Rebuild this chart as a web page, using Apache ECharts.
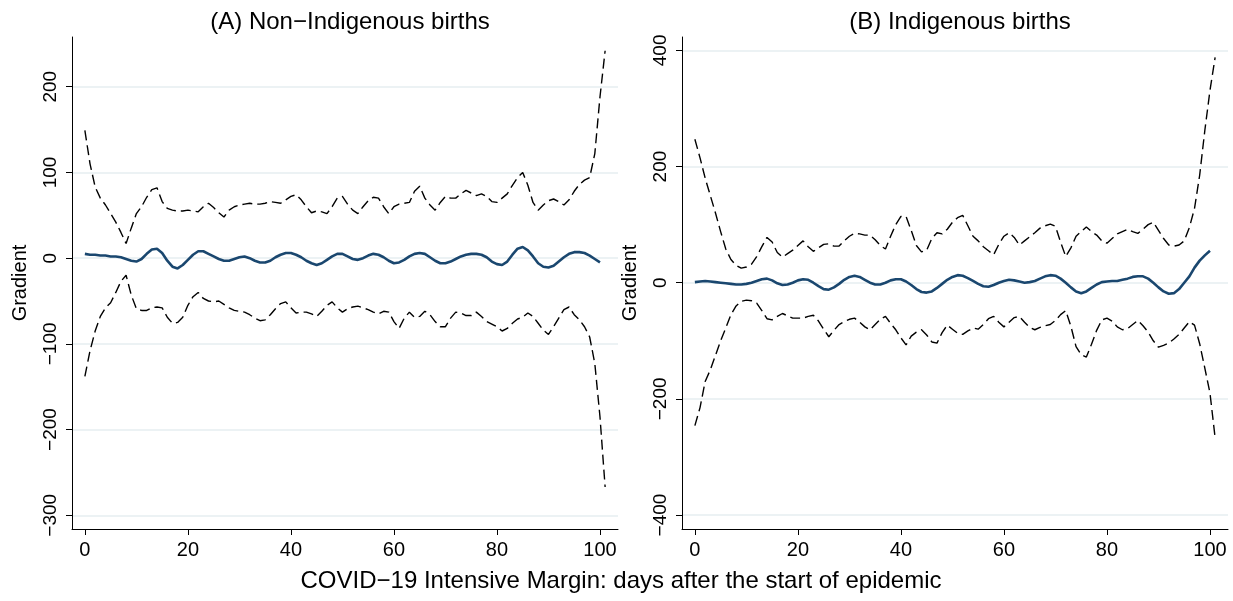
<!DOCTYPE html>
<html>
<head>
<meta charset="utf-8">
<script src="https://cdn.jsdelivr.net/npm/echarts@6/dist/echarts.min.js"></script>
<style>
html,body{margin:0;padding:0;background:#fff;}
#chart{width:1233px;height:601px;}
</style>
</head>
<body>
<div id="chart"></div>
<script>
// ---- Data ----
const panelTitles = ['(A) Non\u2212Indigenous births', '(B) Indigenous births'];
const xTitle = 'COVID\u221219 Intensive Margin: days after the start of epidemic';
const yTitle = 'Gradient';
const xTicks = [0, 20, 40, 60, 80, 100];
const yTicksA = [-300, -200, -100, 0, 100, 200];
const yTicksB = [-400, -200, 0, 200, 400];

// Panel A: Non-Indigenous births (days 0..101 for bands, 0..100 for estimate)
const upperA = [149,110,83,70,62,52,42,30,17,35,52,60,71,80,82,66,58,56,55,55,
  56,55,54,60,64,59,53,48,56,60,62,63,64,63,63,64,66,65,64,68,
  72,74,68,60,53,55,54,52,60,70,72,63,56,52,60,67,71,70,60,52,
  60,63,64,65,78,84,70,62,56,65,72,70,70,75,79,76,73,75,72,66,
  65,70,75,85,94,100,85,65,56,62,67,69,66,62,68,78,86,91,94,122,
  188,242];
const lowerA = [-138,-108,-85,-68,-58,-52,-40,-27,-20,-43,-59,-61,-61,-58,-57,-58,-69,-76,-75,-69,
  -55,-45,-40,-47,-50,-51,-50,-54,-58,-61,-62,-63,-66,-70,-73,-72,-66,-59,-53,-51,
  -58,-64,-63,-63,-65,-68,-62,-55,-51,-58,-63,-59,-57,-56,-58,-60,-63,-65,-62,-63,
  -74,-82,-70,-63,-69,-68,-62,-66,-74,-80,-80,-70,-63,-64,-67,-67,-63,-68,-74,-77,
  -80,-85,-82,-76,-71,-69,-64,-68,-76,-84,-89,-80,-70,-60,-57,-66,-72,-80,-92,-123,
  -185,-267];
const estA = [5,4,4,3,3,2,2,1,-1,-3,-4,-1,5,10,11,6,-3,-10,-12,-8,
  -2,4,8,8,5,2,-1,-3,-3,-1,1,2,0,-3,-5,-5,-3,1,4,6,
  6,4,1,-3,-6,-8,-6,-2,2,5,5,2,-1,-2,0,3,5,4,1,-3,
  -6,-5,-2,2,5,6,5,1,-3,-6,-6,-4,-1,2,4,5,5,4,1,-4,
  -7,-8,-4,4,11,13,9,2,-6,-10,-11,-9,-4,1,5,7,7,6,3,-1,
  -5];

// Panel B: Indigenous births
const upperB = [247,215,180,150,120,88,58,40,30,25,27,32,45,62,78,70,52,44,50,56,
  64,72,62,54,60,66,67,63,63,72,80,85,84,82,82,74,64,58,80,100,
  114,114,90,64,53,56,76,86,84,92,104,112,116,98,80,72,62,55,48,66,
  80,86,78,65,72,79,86,94,98,101,97,70,45,60,80,88,96,88,82,72,
  68,76,84,88,92,88,85,92,100,104,90,76,65,63,65,72,95,128,185,262,
  331,388];
const lowerB = [-246,-215,-170,-150,-125,-100,-78,-55,-40,-32,-30,-31,-35,-48,-62,-64,-58,-53,-57,-61,
  -61,-61,-58,-56,-66,-80,-93,-82,-72,-67,-63,-61,-68,-76,-81,-72,-63,-58,-70,-81,
  -95,-107,-92,-85,-81,-90,-102,-104,-86,-73,-80,-87,-89,-83,-78,-80,-72,-62,-58,-68,
  -76,-68,-60,-58,-68,-77,-81,-77,-74,-72,-65,-55,-48,-75,-110,-124,-128,-106,-82,-64,
  -61,-66,-76,-81,-79,-72,-65,-74,-85,-100,-111,-108,-104,-97,-89,-78,-67,-73,-105,-147,
  -190,-267];
const estB = [1,2,3,2,1,0,-1,-2,-3,-3,-2,0,3,6,7,4,-1,-4,-3,0,
  4,6,5,0,-6,-11,-12,-8,-2,5,10,12,10,5,0,-3,-3,0,4,6,
  6,2,-4,-11,-16,-17,-15,-9,-2,5,10,13,12,8,3,-2,-6,-7,-4,0,
  3,5,4,2,0,1,3,7,11,13,12,7,0,-8,-15,-18,-15,-9,-3,1,
  2,3,3,5,7,10,11,11,7,0,-8,-15,-19,-18,-11,0,11,26,38,47,
  55];

// ---- Build chart ----
const pairs = arr => arr.map((v, i) => [i, v]);
const minus = v => String(v).replace('-', '\u2212');
const FONT = 'Liberation Sans, Arial, Helvetica, sans-serif';
const GRID_COLOR = '#e6eef1';
const NAVY = '#1a476f';

function xAxisFor(idx) {
  return {
    gridIndex: idx, type: 'value', min: -2.5, max: 103.5,
    axisLine: { show: true, onZero: false, lineStyle: { color: '#000', width: 1 } },
    axisTick: { show: true, customValues: xTicks, length: 6, lineStyle: { color: '#000' } },
    axisLabel: { customValues: xTicks, fontSize: 20, color: '#000', fontFamily: FONT, margin: 11 },
    splitLine: { show: false }
  };
}
function yAxisFor(idx, min, max, ticks) {
  return {
    gridIndex: idx, type: 'value', min: min, max: max,
    name: yTitle, nameLocation: 'middle', nameGap: 42, nameRotate: 90,
    nameTextStyle: { fontSize: 20, color: '#000', fontFamily: FONT },
    axisLine: { show: true, onZero: false, lineStyle: { color: '#000', width: 1 } },
    axisTick: { show: true, customValues: ticks, length: 6, lineStyle: { color: '#000' } },
    axisLabel: { customValues: ticks, rotate: 90, fontSize: 19, color: '#000', fontFamily: FONT,
                 margin: 12, formatter: minus },
    splitLine: { show: true, lineStyle: { color: GRID_COLOR, width: 1.5 } }
  };
}
function band(name, data, idx) {
  return { name: name, type: 'line', xAxisIndex: idx, yAxisIndex: idx, data: pairs(data),
    showSymbol: false, symbol: 'none', silent: true, z: 3,
    lineStyle: { color: '#000', width: 1.4, type: [10, 5] } };
}
function est(name, data, idx) {
  return { name: name, type: 'line', xAxisIndex: idx, yAxisIndex: idx, data: pairs(data),
    showSymbol: false, symbol: 'none', silent: true, z: 4,
    lineStyle: { color: NAVY, width: 2.6 } };
}

const chart = echarts.init(document.getElementById('chart'), null, { renderer: 'canvas' });
chart.setOption({
  animation: false,
  backgroundColor: '#fff',
  textStyle: { fontFamily: FONT },
  title: [
    { text: panelTitles[0], left: 345, top: 5, textAlign: 'center',
      textStyle: { fontSize: 24, fontWeight: 'normal', color: '#000', fontFamily: FONT } },
    { text: panelTitles[1], left: 955, top: 5, textAlign: 'center',
      textStyle: { fontSize: 24, fontWeight: 'normal', color: '#000', fontFamily: FONT } },
    { text: xTitle, left: 616, top: 564, textAlign: 'center',
      textStyle: { fontSize: 24, fontWeight: 'normal', color: '#000', fontFamily: FONT } }
  ],
  grid: [
    { left: 72, top: 37, width: 546, height: 492, outerBoundsMode: 'none' },
    { left: 682, top: 37, width: 546, height: 492, outerBoundsMode: 'none' }
  ],
  xAxis: [xAxisFor(0), xAxisFor(1)],
  yAxis: [yAxisFor(0, -316, 258, yTicksA), yAxisFor(1, -424, 423, yTicksB)],
  series: [
    band('Upper A', upperA, 0), band('Lower A', lowerA, 0), est('Gradient A', estA, 0),
    band('Upper B', upperB, 1), band('Lower B', lowerB, 1), est('Gradient B', estB, 1)
  ]
});
</script>
</body>
</html>
